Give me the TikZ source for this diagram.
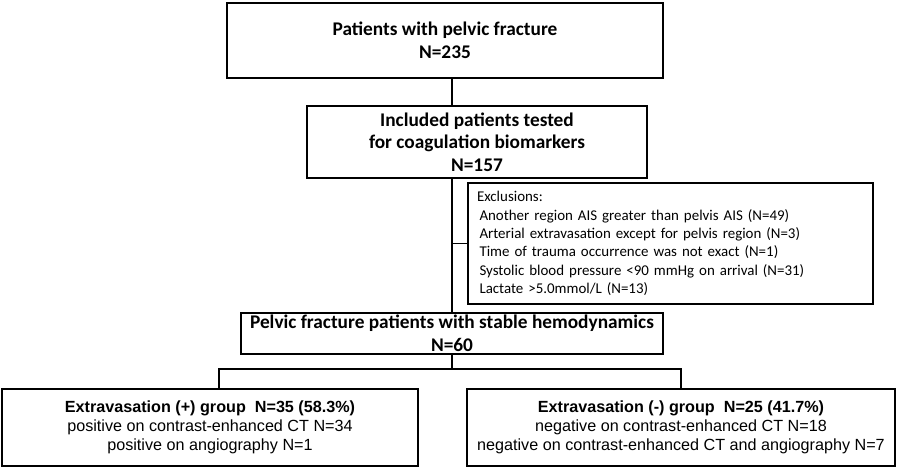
\documentclass[tikz,border=0pt]{standalone}
\usepackage{fontspec}
\setmainfont{Carlito}
\newfontfamily\arialfont{Liberation Sans}
\tikzset{
  stagebox/.style={draw, line width=1.6pt, align=center, inner sep=0pt,
    font=\bfseries\fontsize{11}{12.8}\selectfont},
  exclbox/.style={draw, line width=1.2pt, align=left, inner xsep=0.18cm,
    inner ysep=0pt, font=\fontsize{8.5}{10.4}\selectfont},
  groupbox/.style={draw, line width=1.6pt, align=center, inner sep=0pt,
    font=\arialfont\fontsize{9.2}{10.8}\selectfont},
  link/.style={line width=1.1pt}
}
\begin{document}
\begin{tikzpicture}
  \useasboundingbox (0,0) rectangle (18,-9.38);

  % main flow
  \node[stagebox, minimum width=8.72cm, minimum height=1.5cm] (total) at (8.9,-0.81)
    {Patients with pelvic fracture\\N=235};
  \node[stagebox, minimum width=6.8cm, minimum height=1.44cm] (tested) at (9.54,-2.84)
    {Included patients tested\\for coagulation biomarkers\\N=157};
  \node[stagebox, minimum width=8.44cm, minimum height=0.82cm] (stable) at (9.04,-6.67)
    {Pelvic fracture patients with stable hemodynamics\\N=60};

  % exclusions
  \node[exclbox, text width=7.74cm, minimum height=2.42cm] (excl) at (13.41,-4.87)
    {Exclusions:\\
     \hspace{0.05cm}Another region AIS greater than pelvis AIS (N=49)\\
     \hspace{0.05cm}Arterial extravasation except for pelvis region (N=3)\\
     \hspace{0.05cm}Time of trauma occurrence was not exact (N=1)\\
     \hspace{0.05cm}Systolic blood pressure <90 mmHg on arrival (N=31)\\
     \hspace{0.05cm}Lactate >5.0mmol/L (N=13)};

  % groups
  \node[groupbox, minimum width=8.32cm, minimum height=1.54cm] (pos) at (4.2,-8.55)
    {\textbf{Extravasation (+) group\ \ N=35 (58.3\%)}\\
     positive on contrast-enhanced CT N=34\\
     positive on angiography N=1};
  \node[groupbox, minimum width=8.56cm, minimum height=1.54cm] (neg) at (13.62,-8.55)
    {\textbf{Extravasation (-) group\ \ N=25 (41.7\%)}\\
     negative on contrast-enhanced CT N=18\\
     negative on contrast-enhanced CT and angiography N=7};

  \coordinate (split) at (9.04,-7.38);

  \draw[link] (total.south -| stable.north) -- (tested.north -| stable.north);
  \draw[link] (tested.south -| stable.north) -- (stable.north);
  \draw[link] (excl.west -| stable.north) -- (excl.west);
  \draw[link] (stable.south) -- (split);
  \draw[link] ([xshift=0.18cm]pos.north) |- (split) -| (neg.north);

\end{tikzpicture}
\end{document}
